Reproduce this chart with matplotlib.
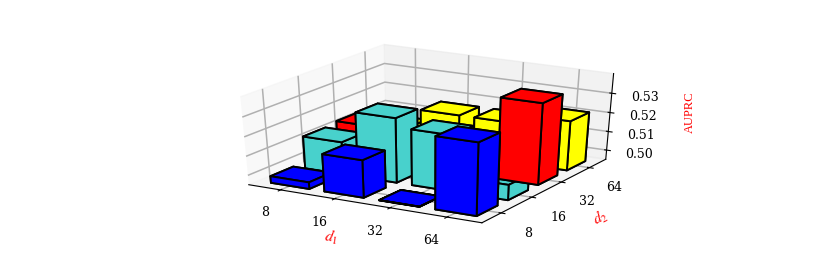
import numpy as np
import matplotlib
matplotlib.use("Agg")
import matplotlib.pyplot as plt

plt.rcParams["mathtext.fontset"] = "stix"
plt.rcParams["grid.linewidth"] = 1.1

d1_labels = ["8", "16", "32", "64"]
d2_labels = ["8", "16", "32", "64"]
row_colors = ["blue", "mediumturquoise", "red", "yellow"]
z_base = 0.495

# AUPRC, one list per d2 row
auprc_d2_8 = [0.4985, 0.5145, 0.4951, 0.532]
auprc_d2_16 = [0.512, 0.5285, 0.524, 0.503]
auprc_d2_32 = [0.513, 0.508, 0.505, 0.537]
auprc_d2_64 = [0.505, 0.516, 0.516, 0.521]
rows = [auprc_d2_8, auprc_d2_16, auprc_d2_32, auprc_d2_64]

fig = plt.figure(figsize=(8.3, 2.73), dpi=100)
ax = fig.add_axes([0.262, 0.136, 0.50, 0.76], projection="3d")
ax.apply_aspect = lambda position=None: None  # the reference is stretched sideways
ax.view_init(elev=30, azim=-60)

w = 0.72
depth = 0.66
for j, vals in enumerate(rows):
    for i, v in enumerate(vals):
        ax.bar3d(i - w / 2, j - depth / 2, z_base, w, depth, v - z_base, color=row_colors[j],
                 edgecolor="black", linewidth=1.4, shade=False)

ax.set_xlim(-0.6, 3.6)
ax.set_ylim(-0.6, 3.6)
ax.set_zlim(z_base, 0.54)
ax.set_xticks(range(4))
ax.set_xticklabels(d1_labels, fontsize=9, family="DejaVu Serif")
ax.set_yticks(range(4))
ax.set_yticklabels(d2_labels, fontsize=9, family="DejaVu Serif")
ax.set_zticks([0.50, 0.51, 0.52, 0.53])
ax.set_zticklabels(["0.50", "0.51", "0.52", "0.53"], fontsize=9, family="DejaVu Serif")
ax.tick_params(axis="x", pad=5)
ax.tick_params(axis="y", pad=5)
ax.tick_params(axis="z", pad=3)
ax.set_xlabel("$d_1$", color="red", fontsize=11, labelpad=5)
ax.set_ylabel("$d_2$", color="red", fontsize=11, labelpad=6)
ax.zaxis.set_rotate_label(False)
ax.set_zlabel("AUPRC", color="red", fontsize=9, family="Liberation Serif", rotation=90, labelpad=6)

fig.savefig("out.png", dpi=100)
